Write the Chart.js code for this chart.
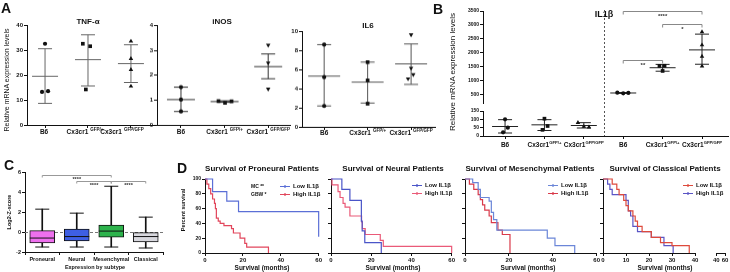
<!DOCTYPE html>
<html>
<head>
<meta charset="utf-8">
<script src="https://cdn.jsdelivr.net/npm/chart.js@4.4.1/dist/chart.umd.min.js"></script>
<style>
  body { margin: 0; background: #fff; }
  #fig { position: relative; width: 730px; height: 272px; overflow: hidden;
         font-family: 'Liberation Sans', Arial, Helvetica, sans-serif; color: #111; }
  #fig canvas { position: absolute; }
  .t { position: absolute; white-space: nowrap; line-height: 1; transform: translate(-50%, -50%); filter: grayscale(1); }
  .b { font-weight: bold; }
  .rot { transform: translate(-50%, -50%) rotate(-90deg); }
  .L { position: absolute; font-weight: bold; font-size: 14px; line-height: 1; filter: grayscale(1); }
</style>
</head>
<body>
<div id="fig">
  <div class="L" style="left:1px;top:1px">A</div>
  <div class="L" style="left:433px;top:2px">B</div>
  <div class="L" style="left:4px;top:158px">C</div>
  <div class="L" style="left:177px;top:161px">D</div>

  <div class="t b" style="left:88px;top:22px;font-size:8px">TNF-α</div>
  <div class="t b" style="left:222px;top:22px;font-size:8px">iNOS</div>
  <div class="t b" style="left:368px;top:26px;font-size:8px">IL6</div>
  <div class="t b" style="left:604px;top:14px;font-size:9px">IL1β</div>
  <div class="t rot" style="left:6px;top:80px;font-size:7px">Relative mRNA expression levels</div>
  <div class="t rot" style="left:453px;top:72px;font-size:8px">Relative mRNA expression levels</div>

  <div class="t rot b" style="left:10px;top:212px;font-size:5.5px">Log2-Z-score</div>
  <div class="t b" style="left:95px;top:268px;font-size:5.5px">Expression by subtype</div>

  <div class="t b" style="left:262px;top:169px;font-size:8px">Survival of Proneural Patients</div>
  <div class="t b" style="left:393px;top:169px;font-size:8px">Survival of Neural Patients</div>
  <div class="t b" style="left:530px;top:169px;font-size:8px">Survival of Mesenchymal Patients</div>
  <div class="t b" style="left:665px;top:169px;font-size:8px">Survival of Classical Patients</div>
  <div class="t rot b" style="left:184px;top:210px;font-size:5.5px">Percent survival</div>
  <div class="t b" style="left:262px;top:268px;font-size:6.5px">Survival (months)</div>
  <div class="t b" style="left:393px;top:268px;font-size:6.5px">Survival (months)</div>
  <div class="t b" style="left:528px;top:268px;font-size:6.5px">Survival (months)</div>
  <div class="t b" style="left:665px;top:268px;font-size:6.5px">Survival (months)</div>
</div>
<script>
// ---------- Panel A: relative mRNA, one value per mouse ----------
const genoBase = ['B6', 'Cx3cr1', 'Cx3cr1'];
const genoSup = ['', 'GFP/+', 'GFP/GFP'];

const tnfB6 = [32.7, 13.3, 13.6];
const tnfHet = [32.7, 31.7, 14.3];
const tnfKO = [33.7, 26.7, 22.3, 15.6];
const tnfMean = [19.6, 26.3, 24.7];
const tnfSdLow = [8.7, 15.7, 17.1];
const tnfSdHigh = [30.7, 36.3, 32.3];

const inosB6 = [1.52, 1.02, 0.54];
const inosHet = [0.96, 0.89, 0.95];
const inosKO = [3.22, 2.5, 1.45];
const inosMean = [1.02, 0.94, 2.35];
const inosSdLow = [0.54, 0.91, 1.86];
const inosSdHigh = [1.52, 0.97, 2.86];

const il6B6 = [8.64, 5.23, 2.2];
const il6Het = [6.8, 4.88, 2.44];
const il6KO = [9.69, 6.17, 5.5, 5.06];
const il6Mean = [5.33, 4.7, 6.62];
const il6SdLow = [2.2, 2.5, 4.46];
const il6SdHigh = [8.64, 6.8, 8.71];

// ---------- Panel B: IL1b, broken axis ----------
const il1bBase = ['B6', 'Cx3cr1', 'Cx3cr1', 'B6', 'Cx3cr1', 'Cx3cr1'];
const il1bSup = ['', 'GFP/+', 'GFP/GFP', '', 'GFP/+', 'GFP/GFP'];
const il1bB6 = [100, 50, 22];
const il1bHet = [104, 60, 37];
const il1bKO = [80, 57, 53];
const il1bB6T = [570, 548, 560];
const il1bHetT = [1530, 1535, 1350];
const il1bKOT = [2750, 2280, 1870, 1520];
const il1bMean = [57, 67, 63, 559, 1465, 2105];
const il1bSdLow = [18, 33, 48, 545, 1340, 1590];
const il1bSdHigh = [98, 98, 80, 575, 1585, 2670];
const il1bSig = [[4, 6, 3490, '****'], [5, 6, 3030, '*'], [4, 5, 1750, '**']];

// ---------- Panel C: log2 z-score by subtype ----------
const subtypes = ['Proneural', 'Neural', 'Mesenchymal', 'Classical'];
const boxMin = [-1.5, -1.5, -1.5, -1.6];
const boxQ1 = [-1.1, -0.9, -0.5, -1.0];
const boxMed = [-0.6, -0.45, 0.1, -0.45];
const boxQ3 = [0.15, 0.3, 0.7, 0.0];
const boxMax = [2.3, 1.9, 4.6, 1.5];
const subtypeSig = [[0, 2, 5.7, '****'], [1, 2, 5.15, '****'], [2, 3, 5.15, '****']];

// ---------- Panel D: Kaplan-Meier, [months, percent] ----------
const proneuralLow = [[0,100],[4,83],[11.5,70],[17.7,56],[60,56],[60,22]];
const proneuralHigh = [[0,100],[1,93],[2,87],[3,80],[4,73],[5,67],[5.5,60],[6,47],[7,43],[8,40],[10,37],[14,33],[15,27],[18.5,20],[21,13],[22,8],[33.5,0]];
const neuralLow = [[0,100],[5.4,86],[9.4,71],[15.1,43],[15.5,30],[16.8,14],[25,0]];
const neuralHigh = [[0,100],[0.5,92],[3.5,83],[4.5,75],[6,67],[7,62],[9.4,50],[15.2,42],[15.6,33],[17,25],[24.5,17],[26,9],[60,0]];
const mesenchymalLow = [[0,100],[3.5,95],[6,86],[7,75],[11,70],[12,55],[13,45],[14.5,31],[37.5,20],[41,10],[50,0]];
const mesenchymalHigh = [[0,100],[2,93],[4,86],[6,79],[7,72],[8,65],[9,58],[11,50],[12,41],[15,31],[17,25],[20.5,0]];
const classicalLow = [[0,100],[4,93],[6,86],[7,79],[9,71],[10,64],[11,57],[13,50],[14,43],[15,36],[17,29],[21,21],[25,14],[30,10],[37.5,0]];
const classicalHigh = [[0,100],[2,93],[3,86],[4,79],[10,71],[11,57],[12,50],[13,36],[15,29],[21,21],[26.5,10],[30.5,0]];

const FAM = "'Liberation Sans', Arial, Helvetica, sans-serif";
Chart.defaults.font.family = FAM;
Chart.defaults.color = '#111';
Chart.defaults.animation = false;
Chart.defaults.events = [];
Chart.defaults.plugins.legend.display = false;
Chart.defaults.plugins.tooltip.enabled = false;

const fig = document.getElementById('fig');

// category labels with a superscript part (Cx3cr1^GFP/+)
Chart.register({
  id: 'supLabels',
  afterDraw(chart, args, o) {
    if (!o.base) return;
    const ctx = chart.ctx, xs = chart.scales.x;
    const y = chart.chartArea.bottom + o.dy;
    ctx.save();
    ctx.fillStyle = '#111';
    ctx.textAlign = 'left';
    o.base.forEach((base, i) => {
      const sup = o.sup[i];
      ctx.font = `bold ${o.size}px ${FAM}`;
      const wb = ctx.measureText(base).width;
      ctx.font = `bold ${o.supSize}px ${FAM}`;
      const ws = sup ? ctx.measureText(sup).width + o.gap : 0;
      const x = xs.getPixelForValue(i + 1) + (o.dx ? o.dx[i] : 0) - (wb + ws) / 2;
      ctx.font = `bold ${o.size}px ${FAM}`;
      ctx.fillText(base, x, y);
      if (sup) {
        ctx.font = `bold ${o.supSize}px ${FAM}`;
        ctx.fillText(sup, x + wb + o.gap, y - o.size * 0.45);
      }
    });
    ctx.restore();
  }
});

// significance brackets
Chart.register({
  id: 'brackets',
  afterDatasetsDraw(chart, args, o) {
    if (!o.list) return;
    const ctx = chart.ctx, xs = chart.scales.x, ys = chart.scales.y;
    ctx.save();
    ctx.strokeStyle = o.color;
    ctx.lineWidth = 1;
    ctx.fillStyle = '#333';
    ctx.font = `bold ${o.size}px ${FAM}`;
    ctx.textAlign = 'center';
    ctx.textBaseline = 'middle';
    o.list.forEach(b => {
      const x1 = xs.getPixelForValue(b[0]), x2 = xs.getPixelForValue(b[1]);
      const y = Math.round(ys.getPixelForValue(b[2])) + 0.5;
      ctx.beginPath();
      ctx.moveTo(x1, y + o.tick); ctx.lineTo(x1, y); ctx.lineTo(x2, y); ctx.lineTo(x2, y + o.tick);
      ctx.stroke();
      ctx.fillText(b[3], (x1 + x2) / 2, y + o.textDy);
    });
    ctx.restore();
  }
});

// dashed guide lines (horizontal at a y value, vertical at an x value)
Chart.register({
  id: 'guides',
  beforeDatasetsDraw(chart, args, o) {
    const ctx = chart.ctx, ca = chart.chartArea;
    ctx.save();
    ctx.lineWidth = 1;
    if (o.h !== undefined) {
      const y = Math.round(chart.scales.y.getPixelForValue(o.h)) + 0.5;
      ctx.strokeStyle = '#777'; ctx.setLineDash([3, 2]);
      ctx.beginPath(); ctx.moveTo(ca.left, y); ctx.lineTo(ca.right, y); ctx.stroke();
    }
    if (o.v !== undefined) {
      const x = Math.round(chart.scales.x.getPixelForValue(o.v)) + 0.5;
      ctx.strokeStyle = '#555'; ctx.setLineDash([2, 2]);
      ctx.beginPath(); ctx.moveTo(x, ca.top - (o.up || 0)); ctx.lineTo(x, ca.bottom + (o.down || 0)); ctx.stroke();
    }
    ctx.restore();
  }
});

// legend box for survival curves
Chart.register({
  id: 'kmLegend',
  afterDraw(chart, args, o) {
    if (o.dx === undefined) return;
    const ctx = chart.ctx, ca = chart.chartArea;
    ctx.save();
    ctx.font = `bold 6px ${FAM}`;
    ctx.textBaseline = 'middle';
    ctx.textAlign = 'left';
    chart.data.datasets.forEach((ds, i) => {
      const x = ca.left + o.dx, y = Math.round(ca.top + o.dy + i * 8) + 0.5;
      ctx.strokeStyle = ds.borderColor; ctx.lineWidth = 1.2;
      ctx.beginPath(); ctx.moveTo(x, y); ctx.lineTo(x + 10, y);
      ctx.moveTo(x + 5, y - 1.5); ctx.lineTo(x + 5, y + 1.5); ctx.stroke();
      ctx.fillStyle = '#111';
      ctx.fillText(ds.label, x + 13, y);
    });
    if (o.notes) {
      o.notes.forEach((n, i) => {
        ctx.font = `bold 5px ${FAM}`;
        ctx.fillText(n, ca.left + o.noteDx, Math.round(ca.top + o.dy + 1 + i * 8));
      });
    }
    ctx.restore();
  }
});

function axis(extra, tickSize) {
  const a = Object.assign({
    grid: { display: true, drawOnChartArea: false, drawTicks: true, tickLength: 3, color: '#111', lineWidth: 1 },
    border: { display: true, color: '#111', width: 1 },
    ticks: { font: { size: tickSize || 6, weight: 'bold' }, padding: 1, color: '#111' }
  }, extra);
  Object.assign(a.ticks, {
    maxRotation: 0, minRotation: 0, autoSkip: false, color: '#111',
    // plain numbers (no thousands separator); category names as they are
    callback: function (v) { return this.type === 'category' ? this.getLabelForValue(v) : String(v); }
  });
  return a;
}

// place a chart so that its plot area lands on x0..x1, y0..y1 of the figure
function makeChart(b, cfg) {
  const cv = document.createElement('canvas');
  const pt = b.pt ?? 4, pr = b.pr ?? 4;
  const w = b.x1 - b.x0 + b.yW + pr, h = b.y1 - b.y0 + pt + b.xH;
  cv.width = w; cv.height = h;
  cv.style.left = (b.x0 - b.yW) + 'px';
  cv.style.top = (b.y0 - pt) + 'px';
  cv.style.width = w + 'px'; cv.style.height = h + 'px';
  fig.appendChild(cv);
  const o = cfg.options;
  o.responsive = false;
  o.layout = { autoPadding: false, padding: { top: pt, right: pr, left: b.yHide ? b.yW : 0, bottom: b.xHide ? b.xH : 0 } };
  if (!b.yHide) o.scales.y.afterFit = s => { s.width = b.yW; };
  if (!b.xHide) o.scales.x.afterFit = s => { s.height = b.xH; };
  return new Chart(cv, cfg);
}

// dot plot with mean and SD bars
function dotSets(groups, mean, lo, hi, shapes, jit, meanR, col) {
  const sets = groups.map((vals, g) => ({
    data: vals.map((v, i) => ({ x: g + 1 + (jit[g][i] || 0), y: v })),
    pointStyle: shapes[g][0], rotation: shapes[g][1], pointRadius: shapes[g][2],
    backgroundColor: '#111', borderColor: '#111', borderWidth: 0, clip: false, order: 0
  }));
  const bars = [];
  mean.forEach((m, g) => bars.push({ x: g + 1, y: lo[g] }, { x: g + 1, y: hi[g] }, { x: g + 1, y: null }));
  sets.push({ data: bars, showLine: true, spanGaps: false, borderColor: col, borderWidth: 1, pointRadius: 0, clip: false, order: 2 });
  sets.push({ data: mean.map((m, g) => ({ x: g + 1, y: m })), pointStyle: 'line', pointRadius: meanR,
              borderColor: col, borderWidth: 1, clip: false, order: 1 });
  sets.push({ data: lo.map((v, g) => ({ x: g + 1, y: v })).concat(hi.map((v, g) => ({ x: g + 1, y: v }))),
              pointStyle: 'line', pointRadius: 7, borderColor: col, borderWidth: 1, clip: false, order: 1 });
  return sets;
}

function catTicks(n) {
  return s => { s.ticks = Array.from({ length: n }, (_, i) => ({ value: i + 1 })); };
}

function dotChart(b, sets, xMin, xMax, yMax, yStep, lab) {
  return makeChart(b, {
    type: 'scatter',
    data: { datasets: sets },
    options: {
      scales: {
        x: axis({ type: 'linear', min: xMin, max: xMax, afterBuildTicks: catTicks(3), ticks: { display: false } }),
        y: axis({ min: 0, max: yMax, ticks: { stepSize: yStep, font: { size: 6, weight: 'bold' }, padding: 1 } })
      },
      plugins: { supLabels: lab }
    }
  });
}

const circ = ['circle', 0, 2.1], sq = ['rect', 0, 2.6], tri = ['triangle', 0, 2.6], triDown = ['triangle', 180, 2.6];
const labA = (dx, dy) => ({ base: genoBase, sup: genoSup, size: 6.5, supSize: 4.5, gap: 2, dy: dy, dx: dx });

// ----- Panel A -----
dotChart({ x0: 27, x1: 155, y0: 25, y1: 125, yW: 18, xH: 14 },
  dotSets([tnfB6, tnfHet, tnfKO], tnfMean, tnfSdLow, tnfSdHigh, [circ, sq, tri],
          [[0, -0.07, 0.07], [-0.12, 0.05, -0.05], [0, 0, 0, 0]], 13, '#666'),
  0.58, 3.56, 40, 10, labA([-1, -3, -9], 8.5));

dotChart({ x0: 157, x1: 290, y0: 25, y1: 124.5, yW: 18, xH: 14 },
  dotSets([inosB6, inosHet, inosKO], inosMean, inosSdLow, inosSdHigh, [circ, sq, triDown],
          [[0, 0, 0], [-0.14, 0.01, 0.16], [0, 0, 0]], 14, '#333'),
  0.45, 3.5, 4, 1, labA([0, 0, 0], 9));

dotChart({ x0: 302, x1: 435, y0: 31, y1: 126.7, yW: 18, xH: 14 },
  dotSets([il6B6, il6Het, il6KO], il6Mean, il6SdLow, il6SdHigh, [circ, sq, triDown],
          [[0, 0, 0], [0, 0, 0], [0, 0, 0.05, -0.07]], 16, '#555'),
  0.49, 3.55, 10, 2, labA([0, 0, 0], 7.5));

// ----- Panel B (broken y axis: upper 200-3500, lower 0-150) -----
const bShapes = [circ, sq, tri, circ, sq, tri];
const bJit = [[0, 0.07, -0.05], [0, 0.08, -0.05], [-0.15, 0, 0.13], [-0.15, 0, 0.13], [-0.08, 0.05, 0], [0, 0, 0, 0]];
function il1bSets(part) {
  const groups = [il1bB6, il1bHet, il1bKO, il1bB6T, il1bHetT, il1bKOT];
  const sel = part === 'low' ? [0, 1, 2] : [3, 4, 5];
  const sets = dotSets(groups, il1bMean, il1bSdLow, il1bSdHigh, bShapes, bJit, 13, '#222');
  // keep only the groups that belong to this half of the broken axis
  return sets.map((ds, k) => {
    if (k < 6) return sel.includes(k) ? ds : null;
    const keep = p => p.y === null || (part === 'low' ? p.y <= 160 : p.y > 160);
    return Object.assign({}, ds, { data: ds.data.filter(keep) });
  }).filter(Boolean);
}
const bX = { type: 'linear', min: 0.44, max: 6.66 };
makeChart({ x0: 483, x1: 728, y0: 11, y1: 103.4, yW: 20, xH: 6, xHide: true, pr: 2 }, {
  type: 'scatter',
  data: { datasets: il1bSets('high') },
  options: {
    scales: {
      x: Object.assign({ display: false }, bX),
      y: axis({ min: 200, max: 3500, afterBuildTicks: s => { s.ticks = [500, 1000, 1500, 2000, 2500, 3000, 3500].map(v => ({ value: v })); },
                ticks: { font: { size: 5, weight: 'bold' }, padding: 1 } })
    },
    plugins: {
      guides: { v: 3.5, up: 1, down: 6 },
      brackets: { list: il1bSig, color: '#888', tick: 3, size: 6, textDy: 4.5 }
    }
  }
});
makeChart({ x0: 483, x1: 728, y0: 109, y1: 136, yW: 20, xH: 14, pt: 2, pr: 2 }, {
  type: 'scatter',
  data: { datasets: il1bSets('low') },
  options: {
    scales: {
      x: axis(Object.assign({ afterBuildTicks: catTicks(6), ticks: { display: false } }, bX)),
      y: axis({ min: 0, max: 150, ticks: { stepSize: 50, font: { size: 5, weight: 'bold' }, padding: 1 } })
    },
    plugins: {
      guides: { v: 3.5, up: 0, down: 0 },
      supLabels: { base: il1bBase, sup: il1bSup, size: 6.5, supSize: 4.2, gap: 0, dy: 11 }
    }
  }
});

// ----- Panel C: box plot -----
const boxColors = ['#ee70ee', '#3e5fe4', '#2db34c', '#d8d8de'];
makeChart({ x0: 25, x1: 163, y0: 172, y1: 252, yW: 14, xH: 10 }, {
  type: 'bar',
  data: {
    labels: subtypes,
    datasets: [
      { data: boxMin.map((v, i) => [v, boxMax[i]]), backgroundColor: '#111', barThickness: 1, grouped: false, order: 3 },
      { data: boxQ1.map((v, i) => [v, boxQ3[i]]), backgroundColor: boxColors, borderColor: '#111', borderWidth: 1,
        borderSkipped: false, barThickness: 25, grouped: false, order: 2 },
      { type: 'line', data: boxMed, showLine: false, pointStyle: 'line', pointRadius: 12.5, borderColor: '#111', borderWidth: 1, order: 1 },
      { type: 'line', data: boxMax, showLine: false, pointStyle: 'line', pointRadius: 7, borderColor: '#111', borderWidth: 1, clip: false, order: 1 },
      { type: 'line', data: boxMin, showLine: false, pointStyle: 'line', pointRadius: 7, borderColor: '#111', borderWidth: 1, order: 1 }
    ]
  },
  options: {
    scales: {
      x: axis({ ticks: { font: { size: 5.5, weight: 'bold' }, padding: 1 } }),
      y: axis({ min: -2, max: 6, ticks: { stepSize: 2, font: { size: 5.5, weight: 'bold' }, padding: 1 } })
    },
    plugins: {
      guides: { h: 0 },
      brackets: { list: subtypeSig, color: '#999', tick: 2, size: 5.5, textDy: 3.5 }
    }
  }
});

// ----- Panel D: survival curves -----
function kmChart(b, series, xMin, xMax, xStep, showY, legend) {
  return makeChart(b, {
    type: 'line',
    data: {
      datasets: series.map(s => ({
        label: s[0], data: s[1].map(p => ({ x: p[0], y: p[1] })), borderColor: s[2],
        borderWidth: 1.2, pointRadius: 0, stepped: true, clip: false, fill: false
      }))
    },
    options: {
      scales: {
        x: axis({ type: 'linear', min: xMin, max: xMax, ticks: { stepSize: xStep, font: { size: 6, weight: 'bold' }, padding: 1 } }),
        y: axis({ min: 0, max: 100, ticks: { stepSize: 20, display: showY, font: { size: 5, weight: 'bold' }, padding: 1 } })
      },
      plugins: { kmLegend: legend }
    }
  });
}
const dBox = (x0, x1, yW, pr) => ({ x0: x0, x1: x1, y0: 179, y1: 253, yW: yW, xH: 10, pr: pr || 3 });
kmChart(dBox(205, 320, 14), [['Low IL1β', proneuralLow, '#5b6fd6'], ['High IL1β', proneuralHigh, '#e2465c']],
  0, 60, 20, true, { dx: 75, dy: 7, notes: ['MC **', 'GBW *'], noteDx: 46 });
kmChart(dBox(331, 453, 6), [['Low IL1β', neuralLow, '#4a55c8'], ['High IL1β', neuralHigh, '#ea5a78']],
  0, 60, 20, false, { dx: 81, dy: 6 });
kmChart(dBox(465, 598, 6), [['Low IL1β', mesenchymalLow, '#6b86d8'], ['High IL1β', mesenchymalHigh, '#d93a4a']],
  0, 60, 20, false, { dx: 83, dy: 6 });
kmChart(dBox(603, 695, 6, 35), [['Low IL1β', classicalLow, '#de4a3c'], ['High IL1β', classicalHigh, '#5a55c5']],
  0, 40, 10, false, { dx: 80, dy: 6 });
// right-hand piece of the broken Classical x axis (40-60 months)
makeChart({ x0: 712, x1: 725, y0: 179, y1: 253, yW: 0, xH: 10, pr: 5, yHide: true }, {
  type: 'line',
  data: { datasets: [] },
  options: {
    scales: {
      x: axis({ type: 'linear', min: 40, max: 60, ticks: { stepSize: 20, font: { size: 6, weight: 'bold' }, padding: 1 } }),
      y: { display: false, min: 0, max: 100 }
    }
  }
});
</script>
</body>
</html>
